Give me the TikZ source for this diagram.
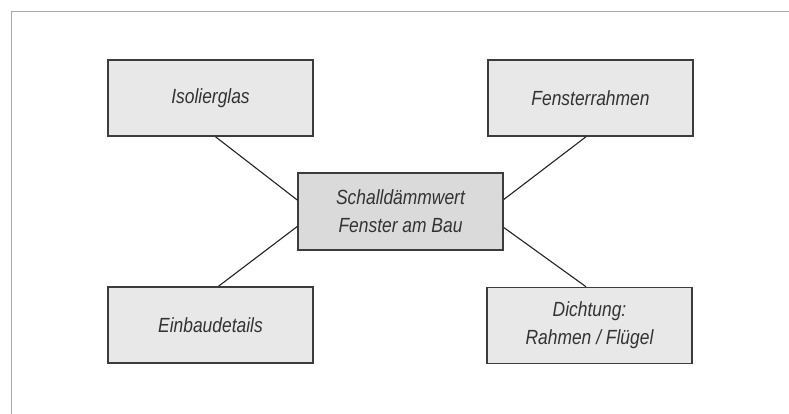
\documentclass[tikz,border=0pt]{standalone}
\usepackage{fontspec}
\setmainfont{Liberation Sans}[FakeStretch=0.85]
\definecolor{frame}{HTML}{AAAAAA}
\definecolor{boxline}{HTML}{3C3C3C}
\definecolor{boxfill}{HTML}{E8E8E8}
\definecolor{ctrfill}{HTML}{DADADA}
\definecolor{txt}{HTML}{333333}
\definecolor{conn}{HTML}{222222}
\tikzset{
  topicbox/.style={draw=boxline, line width=1.5pt, fill=boxfill, rectangle,
    minimum width=205pt, minimum height=76pt, inner sep=0pt, align=center,
    text=txt, font=\itshape\fontsize{20.5}{28.3}\selectfont},
  centerbox/.style={topicbox, fill=ctrfill, minimum height=77pt},
  link/.style={draw=conn, line width=1.1pt},
  framerule/.style={draw=frame, line width=1.6pt}
}
\begin{document}
\begin{tikzpicture}[x=1pt,y=-1pt]
\useasboundingbox (0,0) rectangle (789,414);
\coordinate (fa) at (11.5,414);
\coordinate (fb) at (11.5,11.5);
\coordinate (fc) at (789,11.5);
\draw[framerule] (fa) -- (fb) -- (fc);
\node[topicbox] (iso) at (210.5,98) {Isolierglas};
\node[topicbox] (fen) at (590.5,98) {Fensterrahmen};
\node[centerbox] (ctr) at (400.5,211.5) {Schalldämmwert\\Fenster am Bau};
\node[topicbox] (ein) at (210.5,325) {Einbaudetails};
\node[topicbox] (dic) at (589.5,325.5) {Dichtung:\\Rahmen / Flügel};
\draw[link] ([xshift=5pt]iso.south) -- ([yshift=11.5pt]ctr.west);
\draw[link] ([xshift=-4.5pt]fen.south) -- ([yshift=12pt]ctr.east);
\draw[link] ([xshift=8pt]ein.north) -- ([yshift=-15pt]ctr.west);
\draw[link] ([xshift=-3.5pt]dic.north) -- ([yshift=-16pt]ctr.east);
\end{tikzpicture}
\end{document}
